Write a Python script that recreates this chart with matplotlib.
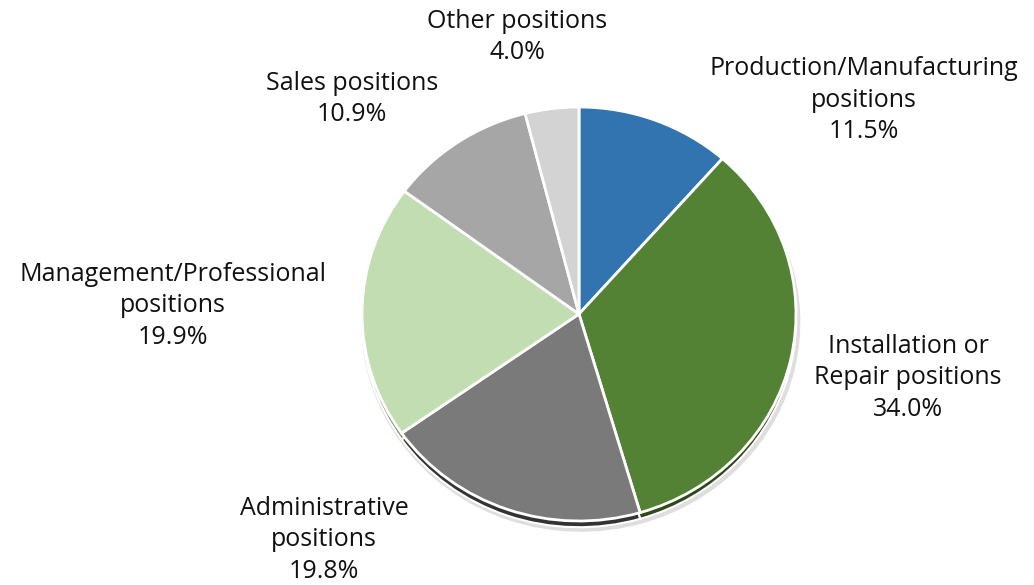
import matplotlib.pyplot as plt

# --- Data ---
categories = [
    "Production/Manufacturing\npositions",
    "Installation or\nRepair positions",
    "Administrative\npositions",
    "Management/Professional\npositions",
    "Sales positions",
    "Other positions",
]
shares = [11.5, 34.0, 19.8, 19.9, 10.9, 4.0]

colors = ["#3274b0", "#548235", "#7a7a7a", "#c3ddb3", "#a6a6a6", "#d3d3d3"]
dark_colors = ["#1f4a72", "#2e4a1c", "#333333", "#6e8a60", "#555555", "#777777"]

# label centres in pixels (x, y from top)
label_pos = [(864, 100), (908, 378), (324, 540), (173, 306), (352, 99), (517, 37)]

W, H = 1034, 585
fig = plt.figure(figsize=(W / 100, H / 100), dpi=100)

# pie centre and radii in pixels
cx, cy, rx, ry = 579, 314, 217, 207
lim = 1.2
ax = fig.add_axes([(cx - lim * rx) / W, (1 - cy / H) - lim * ry / H,
                   2 * lim * rx / W, 2 * lim * ry / H])
ax.axis("off")

# soft shadow and darker rim below the pie
ax.pie(shares, radius=1.012, center=(0.008, -0.04), startangle=90, counterclock=False,
       colors=["#dedede"] * len(shares), wedgeprops=dict(linewidth=0))
ax.pie(shares, radius=1.0, center=(0, -0.03), startangle=90, counterclock=False,
       colors=dark_colors, wedgeprops=dict(edgecolor="white", linewidth=1.5))
ax.pie(shares, radius=1.0, startangle=90, counterclock=False, colors=colors,
       wedgeprops=dict(edgecolor="white", linewidth=2))
ax.set_xlim(-lim, lim)
ax.set_ylim(-lim, lim)
ax.set_aspect("auto")

for name, val, (px, py) in zip(categories, shares, label_pos):
    fig.text(px / W, 1 - py / H, f"{name}\n{val:.1f}%", ha="center", va="center",
             fontsize=18, family="Open Sans", color="#111111", linespacing=1.35)

fig.savefig("out.png", dpi=100)
